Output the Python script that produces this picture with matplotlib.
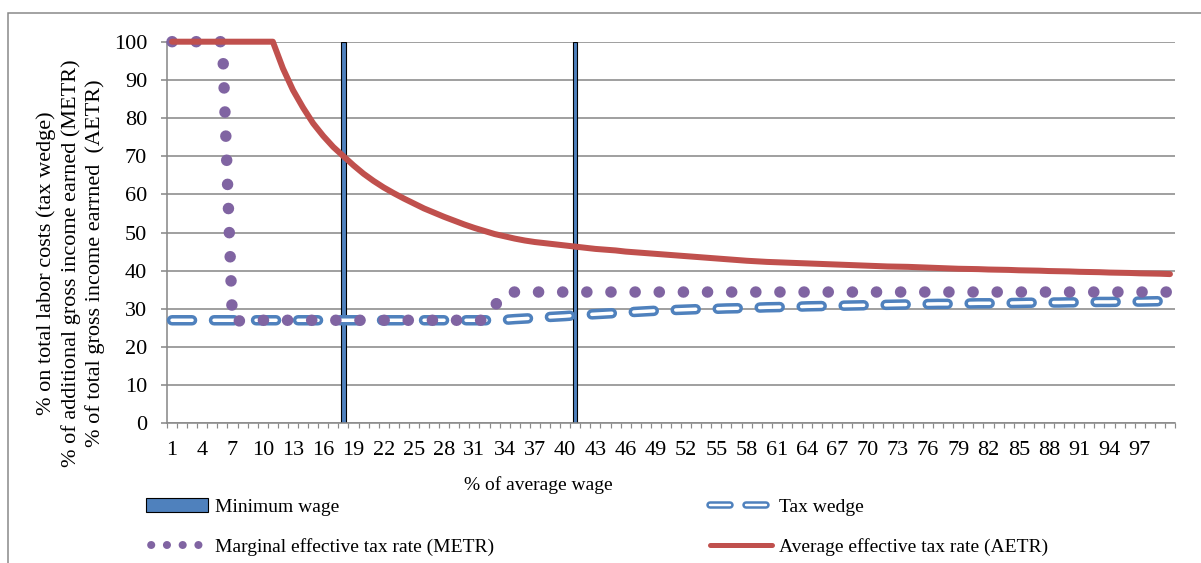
import numpy as np
import matplotlib
matplotlib.use("Agg")
import matplotlib.pyplot as plt
from matplotlib.lines import Line2D
from matplotlib.patches import Patch, Rectangle

# ---------------------------------------------------------------- data
# wage level, % of average wage (one category per percent)
categories = list(range(1, 101))

# tax wedge, % of total labour costs
tax_wedge = [
    27.0, 27.0, 27.0, 27.0, 27.0, 27.0, 27.0, 27.0, 27.0, 27.0,
    27.0, 27.0, 27.0, 27.0, 27.0, 27.0, 27.0, 27.0, 27.0, 27.0,
    27.0, 27.0, 27.0, 27.0, 27.0, 27.0, 27.0, 27.0, 27.0, 27.0,
    27.0, 27.0, 27.0, 27.1, 27.3, 27.45, 27.6, 27.8, 27.95, 28.1,
    28.3, 28.45, 28.6, 28.75, 28.9, 29.05, 29.2, 29.35, 29.5, 29.6,
    29.7, 29.8, 29.9, 29.95, 30.0, 30.1, 30.15, 30.25, 30.3, 30.4,
    30.45, 30.5, 30.55, 30.65, 30.7, 30.75, 30.8, 30.85, 30.9, 30.95,
    31.0, 31.05, 31.1, 31.15, 31.2, 31.25, 31.3, 31.3, 31.35, 31.4,
    31.45, 31.45, 31.5, 31.5, 31.55, 31.6, 31.6, 31.65, 31.65, 31.7,
    31.7, 31.75, 31.8, 31.8, 31.85, 31.9, 31.9, 31.95, 32.0, 32.0,
]

# marginal effective tax rate, % of additional gross income earned
metr = [
    100, 100, 100, 100, 100, 100, 26.5, 27.0, 27.0, 27.0,
    27.0, 27.0, 27.0, 27.0, 27.0, 27.0, 27.0, 27.0, 27.0, 27.0,
    27.0, 27.0, 27.0, 27.0, 27.0, 27.0, 27.0, 27.0, 27.0, 27.0,
    27.0, 27.0, 30.7, 34.4, 34.4, 34.4, 34.4, 34.4, 34.4, 34.4,
    34.4, 34.4, 34.4, 34.4, 34.4, 34.4, 34.4, 34.4, 34.4, 34.4,
    34.4, 34.4, 34.4, 34.4, 34.4, 34.4, 34.4, 34.4, 34.4, 34.4,
    34.4, 34.4, 34.4, 34.4, 34.4, 34.4, 34.4, 34.4, 34.4, 34.4,
    34.4, 34.4, 34.4, 34.4, 34.4, 34.4, 34.4, 34.4, 34.4, 34.4,
    34.4, 34.4, 34.4, 34.4, 34.4, 34.4, 34.4, 34.4, 34.4, 34.4,
    34.4, 34.4, 34.4, 34.4, 34.4, 34.4, 34.4, 34.4, 34.4, 34.4,
]

# average effective tax rate, % of total gross income earned
aetr = [
    100, 100, 100, 100, 100, 100, 100, 100, 100, 100,
    100, 93.0, 87.3, 82.7, 78.6, 75.3, 72.4, 70.0, 67.6, 65.4,
    63.5, 61.8, 60.3, 58.9, 57.6, 56.3, 55.2, 54.1, 53.1, 52.1,
    51.2, 50.4, 49.6, 49.0, 48.4, 47.9, 47.5, 47.2, 46.9, 46.6,
    46.3, 46.0, 45.7, 45.5, 45.3, 45.0, 44.8, 44.6, 44.4, 44.2,
    44.0, 43.8, 43.6, 43.4, 43.2, 43.0, 42.8, 42.6, 42.45, 42.3,
    42.2, 42.1, 42.0, 41.9, 41.8, 41.7, 41.6, 41.5, 41.4, 41.3,
    41.2, 41.1, 41.05, 41.0, 40.9, 40.8, 40.7, 40.6, 40.5, 40.45,
    40.4, 40.3, 40.25, 40.2, 40.1, 40.05, 40.0, 39.9, 39.85, 39.8,
    39.7, 39.65, 39.6, 39.5, 39.45, 39.4, 39.3, 39.25, 39.2, 39.1,
]

# minimum wage markers (category, bar height)
min_wage_pos = [18, 41]
min_wage_val = [100, 100]

# tick labels shown on the category axis
xtick_labels = [1, 4, 7, 10, 13, 16, 19, 22, 25, 28, 31, 34, 37, 40, 43, 46, 49,
                52, 55, 58, 61, 64, 67, 70, 73, 76, 79, 82, 85, 88, 91, 94, 97]

# ---------------------------------------------------------------- style
plt.rcParams['lines.scale_dashes'] = False
plt.rcParams['font.family'] = ['Liberation Serif', 'DejaVu Serif']

BLUE = '#4F81BD'
RED = '#C0504D'
PURPLE = '#8064A2'
GRID = '#8a8a8a'
PX = 0.72          # points per pixel at 100 dpi
FS = 14            # legend / axis title size
TFS = 16           # tick label size
YFS = 16           # value axis title size

W, H = 1201, 563
fig = plt.figure(figsize=(W / 100, H / 100), dpi=100)
ax = fig.add_axes([167 / W, 1 - 423.3 / H, 1008 / W, 381.6 / H])

# minimum wage bars
ax.bar(min_wage_pos, min_wage_val, width=0.42, color=BLUE,
       edgecolor='black', linewidth=0.8, zorder=2)

# tax wedge: blue outlined dashes with a white core
tw_dash = (20 * PX, 22 * PX)
ax.plot(categories, tax_wedge, color=BLUE, lw=10.5 * PX, dashes=tw_dash,
        dash_capstyle='round', zorder=3, clip_on=False)
ax.plot(categories, tax_wedge, color='white', lw=3.5 * PX, dashes=tw_dash,
        dash_capstyle='round', zorder=3.1, clip_on=False)

# METR: round dots
ax.plot(categories, metr, color=PURPLE, lw=11.5 * PX, dashes=(0.1, 24 * PX),
        dash_capstyle='round', zorder=4, clip_on=False)

# AETR: solid line
ax.plot(categories, aetr, color=RED, lw=6 * PX, solid_capstyle='round',
        solid_joinstyle='round', zorder=5, clip_on=False)

# axes
ax.set_xlim(0.5, 100.5)
ax.set_ylim(0, 100)
ax.set_yticks(range(0, 101, 10))
ax.yaxis.grid(True, color=GRID, lw=1.6 * PX)
ax.set_axisbelow(True)
for s in ('top', 'right'):
    ax.spines[s].set_visible(False)
for s in ('left', 'bottom'):
    ax.spines[s].set_color(GRID)
    ax.spines[s].set_linewidth(1.6 * PX)

ax.set_xticks(xtick_labels)
ax.set_xticklabels([str(v) for v in xtick_labels])
ax.set_xticks(np.arange(0.5, 101, 1), minor=True)
ax.tick_params(axis='x', which='major', length=0, pad=13, labelsize=TFS)
ax.tick_params(axis='x', which='minor', length=5 * PX, width=1.2 * PX,
               color=GRID, direction='out')
ax.tick_params(axis='y', length=6 * PX, width=1.6 * PX, color=GRID,
               pad=10, labelsize=TFS)

# axis titles
fig.text(71 / W, 1 - 263 / H,
         "% on total labor costs (tax wedge)\n"
         "% of additional gross income earned (METR)\n"
         "% of total gross income earrned  (AETR)",
         rotation=90, ha='center', va='center', multialignment='center',
         fontsize=YFS, linespacing=1.3)
fig.text(538 / W, 1 - 485 / H, "% of average wage",
         ha='center', va='center', fontsize=FS)

# legend
h_min = Patch(facecolor=BLUE, edgecolor='black', linewidth=0.8)
lg_dash = (20 * PX, 16 * PX)
h_tw = (Line2D([], [], color=BLUE, lw=7.5 * PX, dashes=lg_dash, dash_capstyle='round'),
        Line2D([], [], color='white', lw=2.5 * PX, dashes=lg_dash, dash_capstyle='round'))
h_metr = Line2D([], [], color=PURPLE, lw=8 * PX,
                linestyle=(10.6 * PX, (0.1, 15.6 * PX)), dash_capstyle='round')
h_aetr = Line2D([], [], color=RED, lw=5 * PX, solid_capstyle='round')

common = dict(loc='center left', frameon=False, fontsize=FS, borderpad=0,
              borderaxespad=0, handlelength=62 * PX / FS, handletextpad=0.35,
              labelspacing=1.16)
fig.legend([h_min, h_metr], ["Minimum wage", "Marginal effective tax rate (METR)"],
           bbox_to_anchor=(146 / W, 1 - 527 / H), **common)
fig.legend([h_tw, h_aetr], ["Tax wedge", "Average effective tax rate (AETR)"],
           bbox_to_anchor=(710 / W, 1 - 527 / H), **common)

# chart border
fig.add_artist(Rectangle((8 / W, -0.1), 1.2, 1 - 13 / H + 0.1,
                         transform=fig.transFigure, fill=False,
                         edgecolor='#868686', lw=1.5 * PX))

fig.savefig('out.png', dpi=100, facecolor='white')
